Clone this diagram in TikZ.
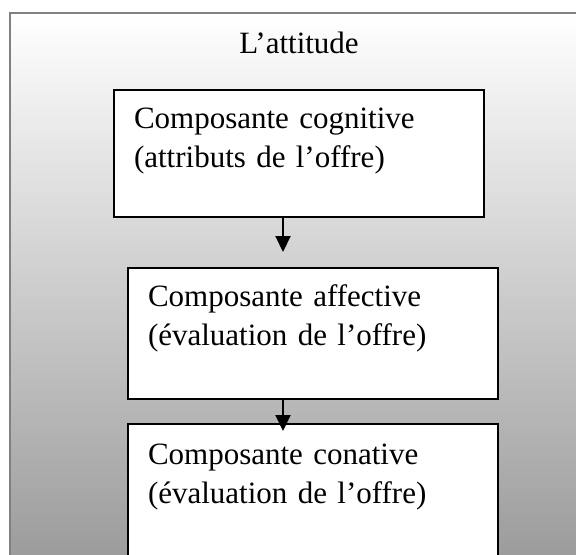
\documentclass[tikz,border=0pt]{standalone}
\usepackage{fontspec}
\setmainfont{Liberation Serif}
\usetikzlibrary{arrows.meta,positioning}
\tikzset{
    % Outer frame - white to grey shading
    frame/.style={
        draw=gray,
        line width=1pt,
        top color=white,
        middle color=black!16,
        bottom color=black!42
    },
    % Component box - white with black border
    component/.style={
        rectangle,
        anchor=north west,
        draw=black,
        fill=white,
        line width=1pt,
        text width=165pt,
        align=left,
        inner xsep=10pt,
        inner ysep=0pt,
        text height=19pt,
        font=\fontsize{15.5}{19.5}\selectfont
    },
    % Title style
    titletext/.style={
        anchor=base,
        inner sep=0pt,
        font=\fontsize{15.5}{19.5}\selectfont
    },
    % Arrow style
    arrow/.style={
        -{Triangle[width=7.5pt,length=8pt]},
        line width=1pt,
        draw=black
    }
}
\begin{document}
\begin{tikzpicture}[x=0.5pt,y=-0.5pt]

    % ========== PAGE AREA ==========
    \clip (0,0) rectangle (576,554);
    \fill[white] (0,0) rectangle (576,554);

    % ========== OUTER FRAME ==========
    \path[frame] (10,13) rectangle (600,600);
    \node[titletext] (title) at (299,53) {L’attitude};

    % ========== COMPONENTS ==========
    \node[component, text depth=44.5pt] (cognitive) at (113,89)
        {Composante cognitive\\(attributs de l’offre)};
    \node[component, text depth=46.5pt] (affective) at (127,267)
        {Composante affective\\(évaluation de l’offre)};
    \node[component, text height=20pt, text depth=70pt] (conative) at (127,423)
        {Composante conative\\(évaluation de l’offre)};

    % ========== ARROW TIPS ==========
    \coordinate (tipone) at (283,252);
    \coordinate (tiptwo) at (283,431);

    % ========== CONNECTIONS ==========
    \draw[arrow] (cognitive.south -| tipone) -- (tipone);
    \draw[arrow] (affective.south -| tiptwo) -- (tiptwo);

\end{tikzpicture}
\end{document}
